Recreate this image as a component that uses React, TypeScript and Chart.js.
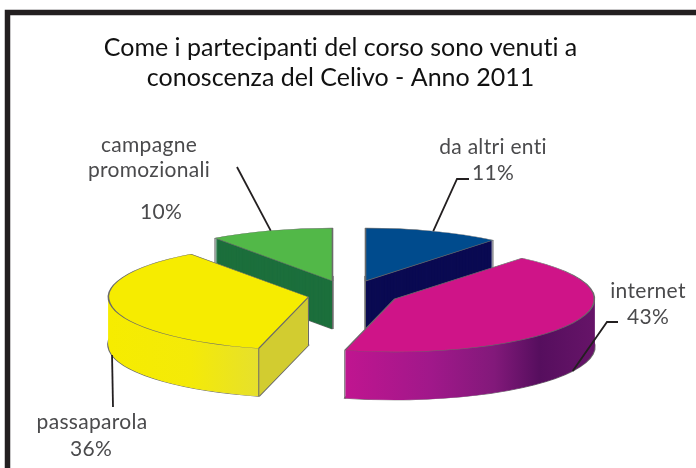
import React, { useEffect, useRef } from "react";
import { Chart, registerables } from "chart.js";

Chart.register(...registerables);

const categories = ["da altri enti", "internet", "passaparola", "campagne promozionali"];
const values = [11, 43, 36, 10];
const topColors = ["#004b8d", "#cf1488", "#f6ec00", "#52b848"];
const titleLines = ["Come i partecipanti del corso sono venuti a", "conoscenza del Celivo - Anno 2011"];

const K = 0.265;
const DEPTH = 48;
const TEXT = "#4a4a4c";
const FONT = "Lato";

// per-slice layout, in slice order
const PIE_SHIFT = 8;
const shifts = [[17 + PIE_SHIFT, -13], [46 + PIE_SHIFT, 5], [-40 + PIE_SHIFT, 3], [-16 + PIE_SHIFT, -13]];
const drawOrder = [3, 0, 2, 1];
const leaderOnSide = [false, true, true, false];
const leaderPaths = [
  [[457, 179], [469, 179]],
  [[607, 322], [618, 322]],
  [[113, 407]],
  [[237, 167]],
];
const labelLayout = [
  { lines: [{ t: "da altri enti", x: 493, y: 147 }], pct: { x: 493, y: 173 } },
  { lines: [{ t: "internet", x: 648, y: 291 }], pct: { x: 648, y: 317 } },
  { lines: [{ t: "passaparola", x: 92, y: 422 }], pct: { x: 91, y: 449 } },
  { lines: [{ t: "campagne", x: 149, y: 145 }, { t: "promozionali", x: 149, y: 170 }], pct: { x: 161, y: 212 } },
];

function wallFill(ctx: CanvasRenderingContext2D, i: number, arc: any) {
  const r = arc.outerRadius;
  if (i === 0) return "#0a0a52";
  if (i === 3) return "#1c6f3c";
  if (i === 1) {
    const leftI = arc.x + r * Math.cos(arc.endAngle);
    const g = ctx.createLinearGradient(leftI, 0, arc.x + r, 0);
    g.addColorStop(0, "#c01590");
    g.addColorStop(0.35, "#a0188a");
    g.addColorStop(0.6, "#82197a");
    g.addColorStop(0.78, "#560e5e");
    g.addColorStop(1, "#661468");
    return g;
  }
  // passaparola: outer rim, then the radial face past the rim corner
  const x0 = arc.x - r;
  const x1 = arc.x;
  const corner = (arc.x + r * Math.cos(arc.startAngle) - x0) / (x1 - x0);
  const g = ctx.createLinearGradient(x0, 0, x1, 0);
  g.addColorStop(0, "#f6ec00");
  g.addColorStop(corner * 0.55, "#f4ea08");
  g.addColorStop(corner - 0.001, "#e6e02c");
  g.addColorStop(corner + 0.001, "#d2cc30");
  g.addColorStop(1, "#d2cc30");
  return g;
}

const pie3d = {
  id: "pie3d",
  beforeDraw(chart: any) {
    // a tiny spacing switches off the font's ligatures in the title
    (chart.ctx as any).letterSpacing = "0.01px";
  },
  beforeDatasetDraw(chart: any) {
    const ctx: CanvasRenderingContext2D = chart.ctx;
    const arcs = chart.getDatasetMeta(0).data;
    const flat = (arc: any, dx: number, dy: number) => {
      ctx.translate(dx, dy + arc.y);
      ctx.scale(1, K);
      ctx.translate(0, -arc.y);
    };
    drawOrder.forEach((i) => {
      const arc = arcs[i];
      const [dx, dy] = shifts[i];
      const base = arc.options;
      // bottom outline first, the walls then cover its inner part
      arc.options = { ...base, backgroundColor: "transparent", borderWidth: 2.4, borderColor: "#6a6a6a" };
      ctx.save();
      flat(arc, dx, dy + DEPTH);
      arc.draw(ctx);
      ctx.restore();
      arc.options = { ...base, backgroundColor: wallFill(ctx, i, arc), borderWidth: 0 };
      for (let d = DEPTH; d >= 1; d--) {
        ctx.save();
        flat(arc, dx, dy + d);
        arc.draw(ctx);
        ctx.restore();
      }
      arc.options = base;
      // vertical edges
      const r = arc.outerRadius;
      const pts = [
        [arc.x + dx, arc.y + dy],
        [arc.x + dx + r * Math.cos(arc.startAngle), arc.y + dy + K * r * Math.sin(arc.startAngle)],
        [arc.x + dx + r * Math.cos(arc.endAngle), arc.y + dy + K * r * Math.sin(arc.endAngle)],
      ];
      ctx.save();
      ctx.strokeStyle = "#6a6a6a";
      ctx.lineWidth = 1;
      pts.forEach(([x, y]) => {
        ctx.beginPath();
        ctx.moveTo(x, y);
        ctx.lineTo(x, y + DEPTH);
        ctx.stroke();
      });
      ctx.restore();
      // top face
      ctx.save();
      flat(arc, dx, dy);
      arc.draw(ctx);
      ctx.restore();
    });
    return false;
  },
  afterDraw(chart: any) {
    const ctx: CanvasRenderingContext2D = chart.ctx;
    const arcs = chart.getDatasetMeta(0).data;
    ctx.save();
    // frame
    ctx.strokeStyle = "#231f20";
    ctx.lineWidth = 5.5;
    ctx.beginPath();
    ctx.moveTo(7.5, 480);
    ctx.lineTo(7.5, 12.5);
    ctx.lineTo(710, 12.5);
    ctx.stroke();
    // leaders
    ctx.lineWidth = 1.8;
    arcs.forEach((arc: any, i: number) => {
      const [dx, dy] = shifts[i];
      const mid = (arc.startAngle + arc.endAngle) / 2;
      const r = arc.outerRadius;
      const x = arc.x + dx + r * Math.cos(mid);
      const y = arc.y + dy + K * r * Math.sin(mid) + (leaderOnSide[i] ? DEPTH : 0);
      ctx.beginPath();
      ctx.moveTo(x, y);
      leaderPaths[i].forEach(([px, py]) => ctx.lineTo(px, py));
      ctx.stroke();
    });
    // labels
    ctx.fillStyle = TEXT;
    ctx.font = `21px ${FONT}`;
    (ctx as any).letterSpacing = "0.3px";
    ctx.textAlign = "center";
    ctx.textBaseline = "middle";
    labelLayout.forEach((l, i) => {
      l.lines.forEach((ln) => ctx.fillText(ln.t, ln.x, ln.y));
      ctx.fillText(`${values[i]}%`, l.pct.x, l.pct.y);
    });
    ctx.restore();
  },
};

export default function App() {
  const ref = useRef<HTMLCanvasElement>(null);
  useEffect(() => {
    document.body.style.margin = "0";
    const chart = new Chart(ref.current!, {
      type: "pie",
      data: {
        labels: categories,
        datasets: [
          {
            data: values,
            backgroundColor: topColors,
            borderColor: "#6a6a6a",
            borderWidth: 1.6,
            radius: 200,
          } as any,
        ],
      },
      options: {
        responsive: false,
        animation: false,
        layout: { padding: { left: 0, right: 15, top: 0, bottom: 0 } },
        plugins: {
          legend: { display: false },
          tooltip: { enabled: false },
          title: {
            display: true,
            text: titleLines,
            color: "#111111",
            align: "center",
            font: { family: FONT, size: 25, weight: "normal", lineHeight: "30px" as any },
            padding: { top: 33, bottom: 27 },
          },
        },
      },
      plugins: [pie3d],
    });
    return () => chart.destroy();
  }, []);
  return (
    <div style={{ width: 696, height: 468, background: "#fff" }}>
      <canvas ref={ref} width={696} height={468} style={{ display: "block" }} />
    </div>
  );
}
